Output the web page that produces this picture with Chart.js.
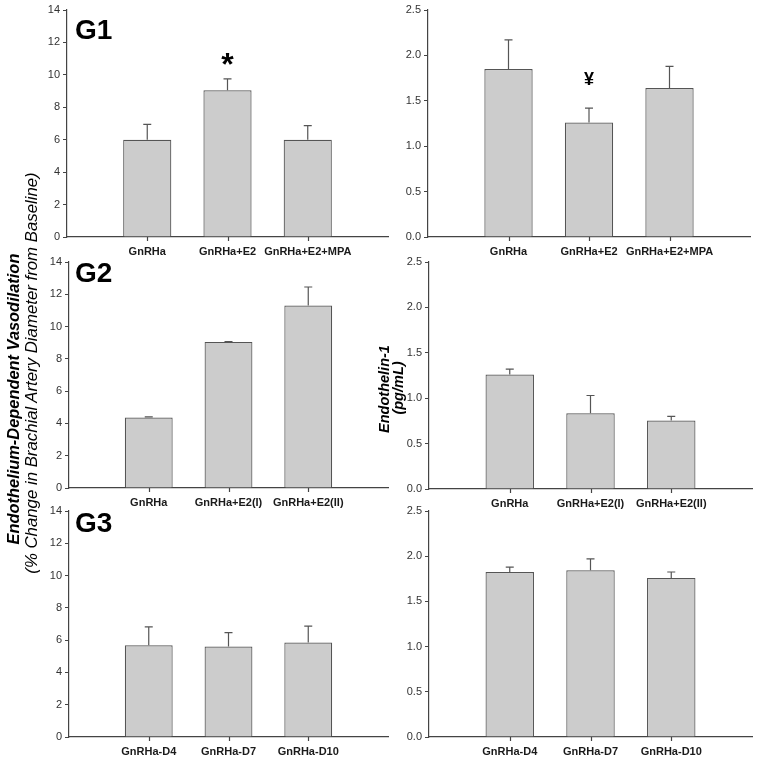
<!DOCTYPE html>
<html>
<head>
<meta charset="utf-8">
<script src="https://cdn.jsdelivr.net/npm/chart.js@4.4.1/dist/chart.umd.min.js"></script>
<style>
  body { margin: 0; background: #fff; width: 763px; height: 762px; position: relative; overflow: hidden; font-family: Arial, "Liberation Sans", sans-serif; }
  canvas { position: absolute; }
  .glabel { position: absolute; font-weight: bold; font-size: 28px; color: #000; line-height: 1; }
  .ytitle { position: absolute; white-space: nowrap; font-style: italic; color: #000; transform: translate(-50%, -50%) rotate(-90deg); line-height: 1; }
</style>
</head>
<body>
<canvas id="c1"></canvas>
<canvas id="c2"></canvas>
<canvas id="c3"></canvas>
<canvas id="c4"></canvas>
<canvas id="c5"></canvas>
<canvas id="c6"></canvas>

<div class="glabel" style="left:75px;top:16px;">G1</div>
<div class="glabel" style="left:75px;top:259px;">G2</div>
<div class="glabel" style="left:75px;top:509px;">G3</div>

<div class="ytitle" style="left:13px;top:399px;font-weight:bold;font-size:16.4px;">Endothelium-Dependent Vasodilation</div>
<div class="ytitle" style="left:32px;top:373px;font-size:16.8px;">(% Change in Brachial Artery Diameter from Baseline)</div>
<div class="ytitle" style="left:384px;top:389px;font-weight:bold;font-size:14.5px;">Endothelin-1</div>
<div class="ytitle" style="left:398px;top:388px;font-weight:bold;font-size:14.5px;">(pg/mL)</div>

<script>
// categories
const groups1 = ["GnRHa", "GnRHa+E2", "GnRHa+E2+MPA"];
const groups2 = ["GnRHa", "GnRHa+E2(I)", "GnRHa+E2(II)"];
const groups3 = ["GnRHa-D4", "GnRHa-D7", "GnRHa-D10"];

// vasodilation (% change) means and upper SE
const fmd1 = [6.0, 9.05, 6.0];
const fmdErr1 = [0.95, 0.7, 0.87];
const fmd2 = [4.36, 9.05, 11.3];
const fmdErr2 = [0.04, 0.02, 1.15];
const fmd3 = [5.68, 5.6, 5.85];
const fmdErr3 = [1.14, 0.87, 1.02];

// endothelin-1 (pg/mL) means and upper SE
const et1 = [1.85, 1.26, 1.64];
const etErr1 = [0.32, 0.16, 0.24];
const et2 = [1.26, 0.835, 0.755];
const etErr2 = [0.06, 0.195, 0.045];
const et3 = [1.825, 1.845, 1.76];
const etErr3 = [0.055, 0.125, 0.065];

// significance marks
const marks1 = [{ idx: 1, y: 11.0, text: "*", font: "bold 32px Arial, 'Liberation Sans'" }];
const marks2 = [{ idx: 1, y: 1.75, text: "¥", font: "bold 18px Arial, 'Liberation Sans'" }];

const axisColor = "#444";
const FONT = "Arial, 'Liberation Sans', sans-serif";

// draws the upper error whisker + cap on each bar, category ticks and marks
const errorBars = {
    id: "errorBars",
    afterDatasetsDraw(chart, args, opts) {
        const ctx = chart.ctx;
        const meta = chart.getDatasetMeta(0);
        const x = chart.scales.x;
        const y = chart.scales.y;
        ctx.save();
        ctx.strokeStyle = "#555";
        ctx.lineWidth = 1.2;
        meta.data.forEach((bar, i) => {
            const v = chart.data.datasets[0].data[i];
            const e = opts.errors[i];
            if (v == null || e == null) return;
            const top = y.getPixelForValue(v + e);
            const base = y.getPixelForValue(v);
            ctx.beginPath();
            ctx.moveTo(bar.x, base);
            ctx.lineTo(bar.x, top);
            ctx.moveTo(bar.x - 4, top);
            ctx.lineTo(bar.x + 4, top);
            ctx.stroke();
        });
        // tick marks under each category
        ctx.strokeStyle = axisColor;
        ctx.beginPath();
        for (let i = 1; i < chart.data.labels.length - 1; i++) {
            const px = Math.round(x.getPixelForValue(i)) + 0.5;
            ctx.moveTo(px, x.top);
            ctx.lineTo(px, x.top + 4);
        }
        ctx.stroke();
        (opts.marks || []).forEach(m => {
            const mx = x.getPixelForValue(m.idx + 1);
            const cy = y.getPixelForValue(m.y);
            ctx.font = m.font;
            ctx.fillStyle = "#000";
            ctx.textAlign = "center";
            ctx.textBaseline = "alphabetic";
            const tm = ctx.measureText(m.text);
            ctx.fillText(m.text, mx, cy + (tm.actualBoundingBoxAscent - tm.actualBoundingBoxDescent) / 2);
        });
        ctx.restore();
    }
};

function makePanel(id, box, cats, vals, errs, yMax, yStep, decimals, marks) {
    const cv = document.getElementById(id);
    cv.style.left = box.left + "px";
    cv.style.top = box.top + "px";
    cv.width = box.width;
    cv.height = box.height;
    cv.style.width = box.width + "px";
    cv.style.height = box.height + "px";

    new Chart(cv, {
        type: "bar",
        data: {
            labels: ["", ...cats, ""],
            datasets: [{
                data: [null, ...vals, null],
                backgroundColor: "#cccccc",
                borderColor: "#555",
                borderWidth: 1.2,
                barPercentage: 0.6,
                categoryPercentage: 1
            }]
        },
        options: {
            responsive: false,
            animation: false,
            layout: { padding: { top: 10, right: 0, left: 0, bottom: 0 } },
            plugins: {
                legend: { display: false },
                tooltip: { enabled: false },
                errorBars: { errors: [null, ...errs, null], marks: marks }
            },
            scales: {
                x: {
                    offset: false,
                    afterFit: s => { s.height = box.xh; },
                    border: { display: true, color: axisColor, width: 1.2 },
                    grid: {
                        offset: false,
                        drawOnChartArea: false,
                        tickLength: 4,
                        color: "rgba(0,0,0,0)"
                    },
                    ticks: {
                        autoSkip: false,
                        maxRotation: 0,
                        padding: 4,
                        color: "#1a1a1a",
                        font: { family: FONT, size: 11, weight: "bold" }
                    }
                },
                y: {
                    min: 0,
                    max: yMax,
                    afterFit: s => { s.width = box.yw; },
                    border: { display: true, color: axisColor, width: 1.2 },
                    grid: { drawOnChartArea: false, tickLength: 4, color: axisColor },
                    ticks: {
                        stepSize: yStep,
                        padding: 3,
                        color: "#333",
                        font: { family: FONT, size: 11 },
                        callback: v => v.toFixed(decimals)
                    }
                }
            }
        },
        plugins: [errorBars]
    });
}

makePanel("c1", { left: 0, top: 0, width: 392, height: 262, yw: 67, xh: 25 }, groups1, fmd1, fmdErr1, 14, 2, 0, marks1);
makePanel("c2", { left: 380, top: 0, width: 374, height: 262, yw: 48, xh: 25 }, groups1, et1, etErr1, 2.5, 0.5, 1, marks2);
makePanel("c3", { left: 0, top: 252, width: 392, height: 261, yw: 69, xh: 25 }, groups2, fmd2, fmdErr2, 14, 2, 0, []);
makePanel("c4", { left: 380, top: 252, width: 376, height: 262, yw: 49, xh: 25 }, groups2, et2, etErr2, 2.5, 0.5, 1, []);
makePanel("c5", { left: 0, top: 501, width: 392, height: 261, yw: 69, xh: 25 }, groups3, fmd3, fmdErr3, 14, 2, 0, []);
makePanel("c6", { left: 380, top: 501, width: 376, height: 261, yw: 49, xh: 25 }, groups3, et3, etErr3, 2.5, 0.5, 1, []);
</script>
</body>
</html>
